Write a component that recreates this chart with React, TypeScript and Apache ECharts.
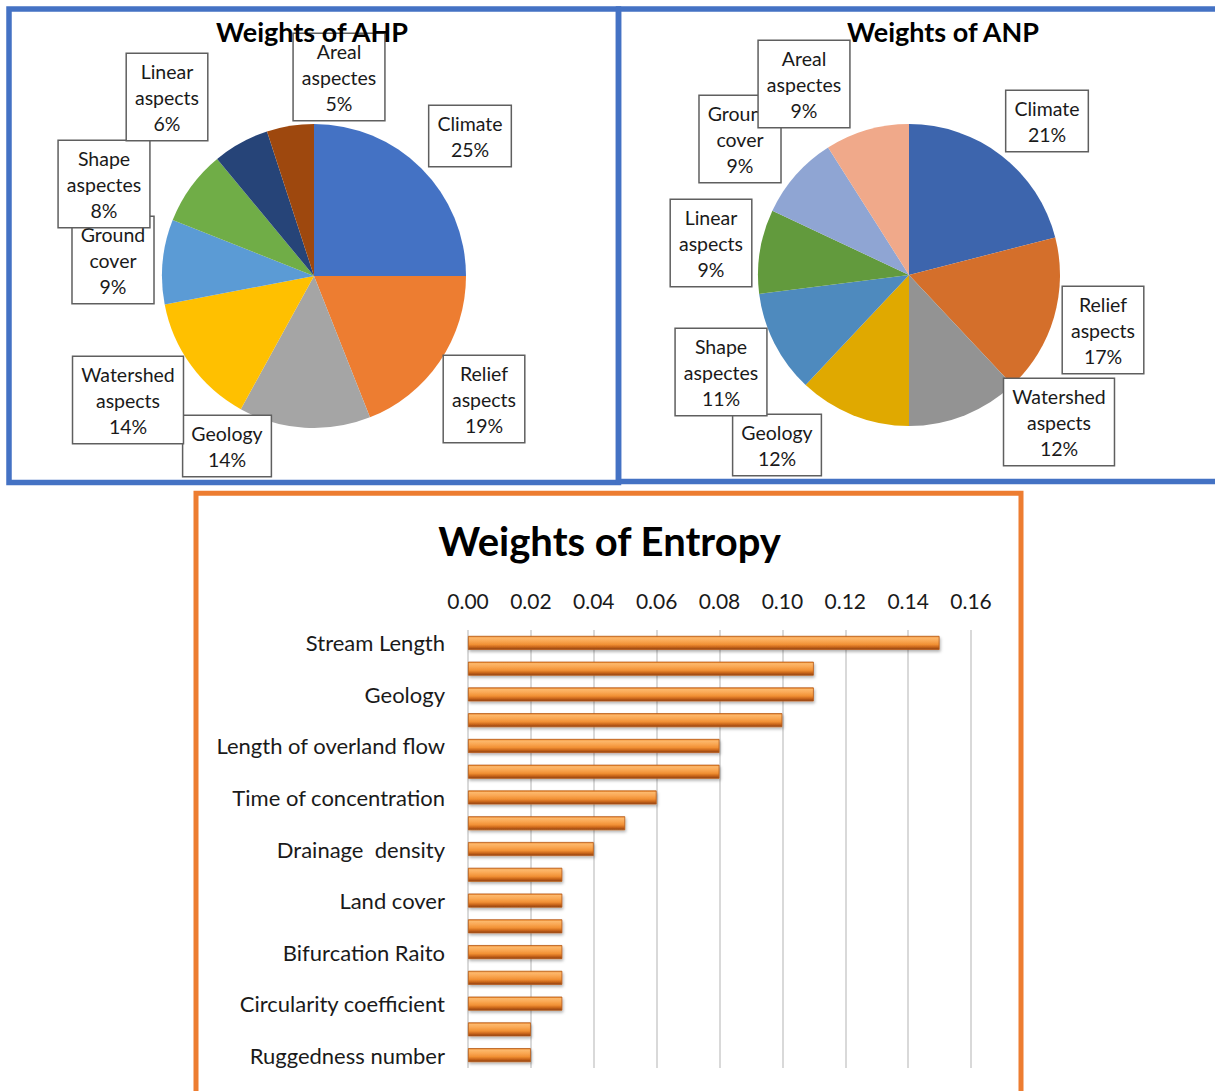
import React, { useEffect, useRef } from "react";
import * as echarts from "echarts";

// ---- Data ----
const ahpCategories = [
  "Climate",
  "Relief aspects",
  "Geology",
  "Watershed aspects",
  "Ground cover",
  "Shape aspectes",
  "Linear aspects",
  "Areal aspectes",
];
const ahpValues = [25, 19, 14, 14, 9, 8, 6, 5];

const anpCategories = [
  "Climate",
  "Relief aspects",
  "Watershed aspects",
  "Geology",
  "Shape aspectes",
  "Linear aspects",
  "Ground cover",
  "Areal aspectes",
];
const anpValues = [21, 17, 12, 12, 11, 9, 9, 9];

const entropyCategories = [
  "Stream Length",
  "Stream frequency",
  "Geology",
  "Relief ratio",
  "Length of overland flow",
  "Texture ratio",
  "Time of concentration",
  "Elongation ratio",
  "Drainage  density",
  "Form factor",
  "Land cover",
  "Basin relief",
  "Bifurcation Raito",
  "Compactness coefficient",
  "Circularity coefficient",
  "Stream number",
  "Ruggedness number",
];
const entropyValues = [
  0.15, 0.11, 0.11, 0.1, 0.08, 0.08, 0.06, 0.05, 0.04, 0.03, 0.03, 0.03, 0.03,
  0.03, 0.03, 0.02, 0.02,
];
const entropyAxisMin = 0;
const entropyAxisMax = 0.16;
const entropyAxisStep = 0.02;

// ---- Styles / layout ----
const ahpColors = [
  "#4472C4",
  "#ED7D31",
  "#A5A5A5",
  "#FFC000",
  "#5B9BD5",
  "#70AD47",
  "#264478",
  "#9E480E",
];
const anpColors = [
  "#3D65AD",
  "#D46F2B",
  "#939393",
  "#E0A900",
  "#4E8ABE",
  "#629A3D",
  "#8FA5D3",
  "#F0A98A",
];
const ahpLabelPos = [
  [470, 136],
  [484, 399],
  [227, 446],
  [128, 400],
  [113, 260],
  [104, 184],
  [167, 97],
  [339, 77],
];
const anpLabelPos = [
  [1047, 121],
  [1103, 330],
  [1059, 422],
  [777, 445],
  [721, 372],
  [711, 243],
  [740, 139],
  [804, 84],
];

const FONT = "Lato, Carlito, 'Liberation Sans', sans-serif";

function pieLabel(p: any) {
  return `${String(p.name).replace(" ", "\n")}\n${Math.round(p.percent)}%`;
}

function makePie(
  name: string,
  cats: string[],
  vals: number[],
  colors: string[],
  center: number[],
  radius: number,
  pos: number[][]
) {
  return {
    type: "pie",
    name,
    center,
    radius,
    startAngle: 90,
    clockwise: true,
    silent: true,
    z: 2,
    data: cats.map((c, i) => ({
      name: c,
      value: vals[i],
      itemStyle: { color: colors[i] },
    })),
    itemStyle: { borderWidth: 0 },
    label: {
      show: true,
      position: "inside",
      rotate: 0,
      formatter: pieLabel,
      fontFamily: FONT,
      fontSize: 19.5,
      lineHeight: 26,
      color: "#1a1a1a",
      align: "center",
      backgroundColor: "#ffffff",
      borderColor: "#5f5f5f",
      borderWidth: 1.5,
      padding: [4, 8, 4, 8],
    },
    labelLine: { show: false },
    labelLayout: (params: any) => ({
      x: pos[params.dataIndex][0],
      y: pos[params.dataIndex][1],
      align: "center",
      verticalAlign: "middle",
    }),
  };
}

export default function App() {
  const ref = useRef<HTMLDivElement>(null);
  useEffect(() => {
    if (!ref.current) return;
    const chart = echarts.init(ref.current, undefined, { renderer: "svg" });
    const barGradient = new echarts.graphic.LinearGradient(0, 0, 0, 1, [
      { offset: 0, color: "#EE8424" },
      { offset: 0.12, color: "#FCB86C" },
      { offset: 0.35, color: "#FAA854" },
      { offset: 0.62, color: "#F19034" },
      { offset: 0.82, color: "#C8641A" },
      { offset: 1, color: "#8C400F" },
    ]);
    chart.setOption({
      animation: false,
      backgroundColor: "#ffffff",
      graphic: [
        {
          type: "rect",
          z: 0,
          shape: { x: 9, y: 9, width: 609.5, height: 473.5 },
          style: { fill: "none", stroke: "#4472C4", lineWidth: 5.5 },
        },
        {
          type: "rect",
          z: 0,
          shape: { x: 618.5, y: 9, width: 620, height: 472.5 },
          style: { fill: "none", stroke: "#4472C4", lineWidth: 5.5 },
        },
        {
          type: "rect",
          z: 0,
          shape: { x: 196, y: 493.3, width: 825, height: 620 },
          style: { fill: "none", stroke: "#ED7D31", lineWidth: 5 },
        },
        {
          type: "text",
          z: 10,
          x: 312,
          y: 31,
          style: {
            text: "Weights of AHP",
            fill: "#000",
            font: `bold 27px ${FONT}`,
            textAlign: "center",
            textVerticalAlign: "middle",
          },
        },
        {
          type: "text",
          z: 10,
          x: 943,
          y: 31,
          style: {
            text: "Weights of ANP",
            fill: "#000",
            font: `bold 27px ${FONT}`,
            textAlign: "center",
            textVerticalAlign: "middle",
          },
        },
        {
          type: "text",
          z: 10,
          x: 609.5,
          y: 541,
          style: {
            text: "Weights of Entropy",
            fill: "#000",
            font: `bold 40px ${FONT}`,
            textAlign: "center",
            textVerticalAlign: "middle",
          },
        },
      ],
      grid: {
        left: 468,
        top: 630,
        width: 503,
        height: 438,
        containLabel: false,
      },
      xAxis: {
        type: "value",
        position: "top",
        min: entropyAxisMin,
        max: entropyAxisMax,
        interval: entropyAxisStep,
        axisLine: { show: false },
        axisTick: { show: false },
        splitLine: { show: true, lineStyle: { color: "#D9D9D9", width: 2 } },
        axisLabel: {
          formatter: (v: number) => v.toFixed(2),
          fontFamily: FONT,
          fontSize: 21,
          color: "#1a1a1a",
          margin: 19,
        },
      },
      yAxis: {
        type: "category",
        inverse: true,
        data: entropyCategories,
        axisLine: { show: false },
        axisTick: { show: false },
        axisLabel: {
          interval: 1,
          fontFamily: FONT,
          fontSize: 22,
          color: "#1a1a1a",
          margin: 23,
        },
      },
      series: [
        makePie(
          "Weights of AHP",
          ahpCategories,
          ahpValues,
          ahpColors,
          [314, 276],
          152,
          ahpLabelPos
        ),
        makePie(
          "Weights of ANP",
          anpCategories,
          anpValues,
          anpColors,
          [909, 275],
          151,
          anpLabelPos
        ),
        {
          type: "bar",
          name: "Weights of Entropy",
          data: entropyValues,
          barWidth: 14,
          silent: true,
          itemStyle: {
            color: barGradient,
            borderColor: "#B65A17",
            borderWidth: 0.8,
            shadowColor: "rgba(0,0,0,0.3)",
            shadowBlur: 3,
            shadowOffsetX: 1,
            shadowOffsetY: 2,
          },
        },
      ],
    });
    return () => chart.dispose();
  }, []);
  return (
    <div
      ref={ref}
      style={{ position: "absolute", left: 0, top: 0, width: 1215, height: 1091 }}
    />
  );
}
